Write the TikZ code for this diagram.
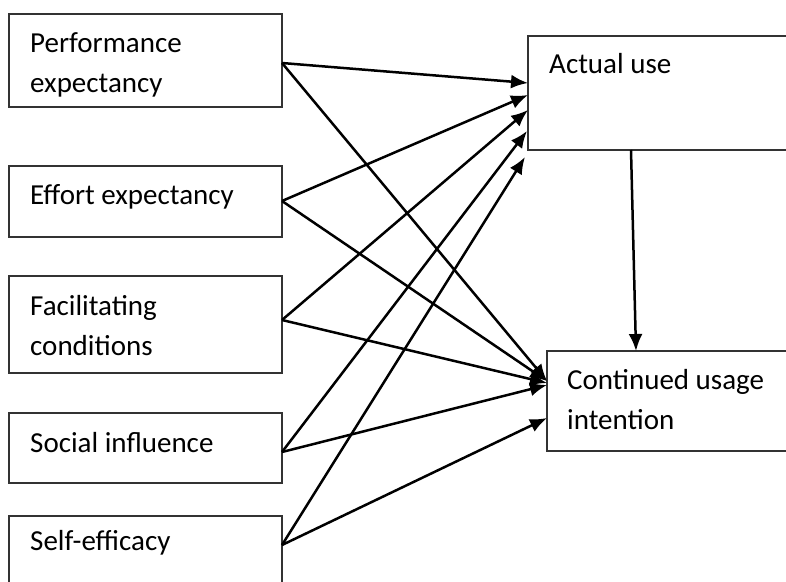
\documentclass[tikz,border=0pt]{standalone}
\usepackage{fontspec}
\setmainfont{Carlito}
\usetikzlibrary{arrows.meta}
\begin{document}
\begin{tikzpicture}[x=1pt,y=-1pt,
  box/.style={draw=black!80,line width=1.4pt,rectangle,inner sep=0pt,outer sep=0pt,anchor=north west},
  lbl/.style={anchor=base west,inner sep=0pt,font=\fontsize{29}{40}\selectfont},
  arr/.style={line width=2.5pt,-{Latex[length=17pt,width=14pt]}}]
\useasboundingbox (0,0) rectangle (786,581);
\clip (0,0) rectangle (786,581);
% left boxes
\node[box,minimum width=273pt,minimum height=93pt] (pe) at (9,14) {};
\node[box,minimum width=273pt,minimum height=71pt] (ee) at (9,166) {};
\node[box,minimum width=273pt,minimum height=97pt] (fc) at (9,276) {};
\node[box,minimum width=273pt,minimum height=70pt] (si) at (9,413) {};
\node[box,minimum width=273pt,minimum height=90pt] (se) at (9,516) {};
% right boxes
\node[box,minimum width=280pt,minimum height=114pt] (au) at (528,36) {};
\node[box,minimum width=260pt,minimum height=100pt] (cu) at (547,351) {};
% labels
\node[lbl] (tpe) at (30,52) {\begin{tabular}[t]{@{}l@{}}Performance\\expectancy\end{tabular}};
\node[lbl] (tee) at (30,204) {Effort expectancy};
\node[lbl] (tfc) at (30,315) {\begin{tabular}[t]{@{}l@{}}Facilitating\\conditions\end{tabular}};
\node[lbl] (tsi) at (30,452) {Social influence};
\node[lbl] (tse) at (30,550) {Self-efficacy};
\node[lbl] (tau) at (549,73) {Actual use};
\node[lbl] (tcu) at (567,389) {\begin{tabular}[t]{@{}l@{}}Continued usage\\intention\end{tabular}};
% arrows to Actual use
\draw[arr] (pe.east |- 0,63) -- (au.west |- 0,83);
\draw[arr] (ee.east |- 0,201) -- (au.west |- 0,95);
\draw[arr] (fc.east |- 0,320) -- (au.west |- 0,110);
\draw[arr] (si.east |- 0,452) -- (527,131);
\draw[arr] (se.east |- 0,545) -- (525,157);
% arrows to Continued usage intention
\draw[arr] (pe.east |- 0,63) -- (cu.west |- 0,381);
\draw[arr] (ee.east |- 0,201) -- (cu.west |- 0,381);
\draw[arr] (fc.east |- 0,320) -- (cu.west |- 0,383);
\draw[arr] (si.east |- 0,452) -- (cu.west |- 0,385);
\draw[arr] (se.east |- 0,545) -- (cu.west |- 0,418);
% Actual use -> Continued
\draw[arr] (au.south -| 631,0) -- (cu.north -| 636,0);
\end{tikzpicture}
\end{document}
